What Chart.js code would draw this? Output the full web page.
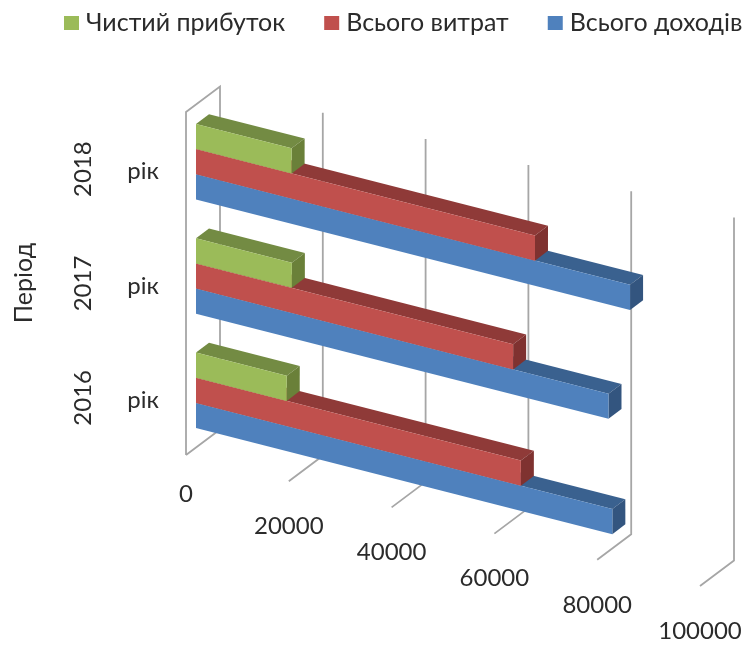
<!DOCTYPE html>
<html lang="uk">
<head>
    <meta charset="UTF-8">
    <title>Доходи та витрати за період</title>
    <script src="https://cdn.jsdelivr.net/npm/chart.js"></script>
    <style>
        html, body { margin: 0; padding: 0; background: #ffffff; }
        #chart { display: block; }
    </style>
</head>
<body>
    <canvas id="chart" width="743" height="645"></canvas>
    <script>
        const categories = ['2018', '2017', '2016'];
        const categorySuffix = 'рік';
        const axisTitle = 'Період';
        const valueTicks = [0, 20000, 40000, 60000, 80000, 100000];

        const netProfit = [18600, 18650, 17650];
        const totalCosts = [65950, 61700, 63200];
        const totalIncome = [84450, 80250, 81000];

        const textColor = '#2b2b2b';
        const gridColor = '#a6a6a6';
        const fontFamily = 'Lato, "Liberation Sans", sans-serif';

        // screen slope of the value axis, the wall depth and the bar depth
        const shear = 26.2 / 102.8;
        const wallFront = { x: -10, y: 7.5 };
        const wallBack = { x: 24, y: -18 };
        const barDepth = { x: 13, y: -9.8 };

        const facePath = (ctx, points) => {
            ctx.beginPath();
            points.forEach((p, i) => i ? ctx.lineTo(p[0], p[1]) : ctx.moveTo(p[0], p[1]));
            ctx.closePath();
            ctx.fill();
        };

        const line = (ctx, points) => {
            ctx.beginPath();
            points.forEach((p, i) => i ? ctx.lineTo(p[0], p[1]) : ctx.moveTo(p[0], p[1]));
            ctx.stroke();
        };

        const pseudo3d = {
            id: 'pseudo3d',
            beforeDatasetsDraw(chart) {
                const { ctx, chartArea, scales } = chart;
                const slant = x => (x - chartArea.left) * shear;
                ctx.save();
                ctx.strokeStyle = gridColor;
                ctx.lineWidth = 1.8;
                valueTicks.forEach(v => {
                    const p = scales.x.getPixelForValue(v);
                    const top = chartArea.top + slant(p);
                    const floor = chartArea.bottom + slant(p);
                    const path = [
                        [p + wallFront.x, floor + wallFront.y],
                        [p + wallBack.x, floor + wallBack.y],
                        [p + wallBack.x, top + wallBack.y]
                    ];
                    if (v === 0) path.push([p + wallFront.x, top + wallFront.y], [p + wallFront.x, floor + wallFront.y]);
                    line(ctx, path);
                });
                ctx.restore();

                // the bars themselves are drawn sheared along the value axis
                ctx.save();
                ctx.transform(1, shear, 0, 1, 0, -shear * chartArea.left);
            },
            beforeDatasetDraw(chart, args) {
                const { ctx } = chart;
                const ds = chart.data.datasets[args.index];
                const dx = barDepth.x;
                const dy = barDepth.y - shear * barDepth.x;
                args.meta.data.forEach(bar => {
                    const { x, y, base, height } = bar.getProps(['x', 'y', 'base', 'height']);
                    const top = y - height / 2;
                    const bottom = y + height / 2;
                    ctx.fillStyle = ds.topColor;
                    facePath(ctx, [[base, top], [x, top], [x + dx, top + dy], [base + dx, top + dy]]);
                    ctx.fillStyle = ds.sideColor;
                    facePath(ctx, [[x, top], [x + dx, top + dy], [x + dx, bottom + dy], [x, bottom]]);
                });
            },
            afterDatasetsDraw(chart) {
                chart.ctx.restore();
            },
            afterDraw(chart) {
                const { ctx, chartArea, scales } = chart;
                ctx.save();
                ctx.fillStyle = textColor;
                ctx.textBaseline = 'middle';
                ctx.textAlign = 'center';
                ctx.font = '24px ' + fontFamily;

                valueTicks.forEach(v => {
                    const p = scales.x.getPixelForValue(v);
                    const floor = chartArea.bottom + (p - chartArea.left) * shear + wallFront.y;
                    ctx.fillText(String(v), p + wallFront.x, floor + (v === 0 ? 39 : 45));
                });

                categories.forEach((c, i) => {
                    const y = scales.y.getPixelForValue(i);
                    ctx.fillText(categorySuffix, 143, y + 10);
                    ctx.save();
                    ctx.translate(83, y + 7.5);
                    ctx.rotate(-Math.PI / 2);
                    ctx.fillText(c, 0, 0);
                    ctx.restore();
                });

                ctx.font = '25px ' + fontFamily;
                ctx.save();
                ctx.translate(24, (chartArea.top + chartArea.bottom) / 2 + 7);
                ctx.rotate(-Math.PI / 2);
                ctx.fillText(axisTitle, 0, 0);
                ctx.restore();

                // legend row
                ctx.textAlign = 'left';
                let x = 64;
                chart.data.datasets.forEach(ds => {
                    ctx.fillStyle = ds.backgroundColor;
                    ctx.fillRect(x, 16, 15, 14);
                    ctx.fillStyle = textColor;
                    ctx.fillText(ds.label, x + 22, 23);
                    x += 22 + ctx.measureText(ds.label).width + 39;
                });
                ctx.restore();
            }
        };

        new Chart(document.getElementById('chart'), {
            type: 'bar',
            data: {
                labels: categories,
                datasets: [
                    { label: 'Чистий прибуток', data: netProfit, backgroundColor: '#9bbb59', topColor: '#738b43', sideColor: '#6a8039' },
                    { label: 'Всього витрат', data: totalCosts, backgroundColor: '#c0504d', topColor: '#8f3a38', sideColor: '#7f3230' },
                    { label: 'Всього доходів', data: totalIncome, backgroundColor: '#4f81bd', topColor: '#3a618f', sideColor: '#33557f' }
                ]
            },
            options: {
                indexAxis: 'y',
                responsive: false,
                animation: false,
                layout: { padding: { left: 196, right: 33, top: 104.5, bottom: 197.5 } },
                datasets: { bar: { categoryPercentage: 0.66, barPercentage: 1, clip: false } },
                plugins: {
                    legend: { display: false },
                    tooltip: { enabled: false }
                },
                scales: {
                    x: { display: false, min: 0, max: 100000 },
                    y: { display: false }
                }
            },
            plugins: [pseudo3d]
        });
    </script>
</body>
</html>
